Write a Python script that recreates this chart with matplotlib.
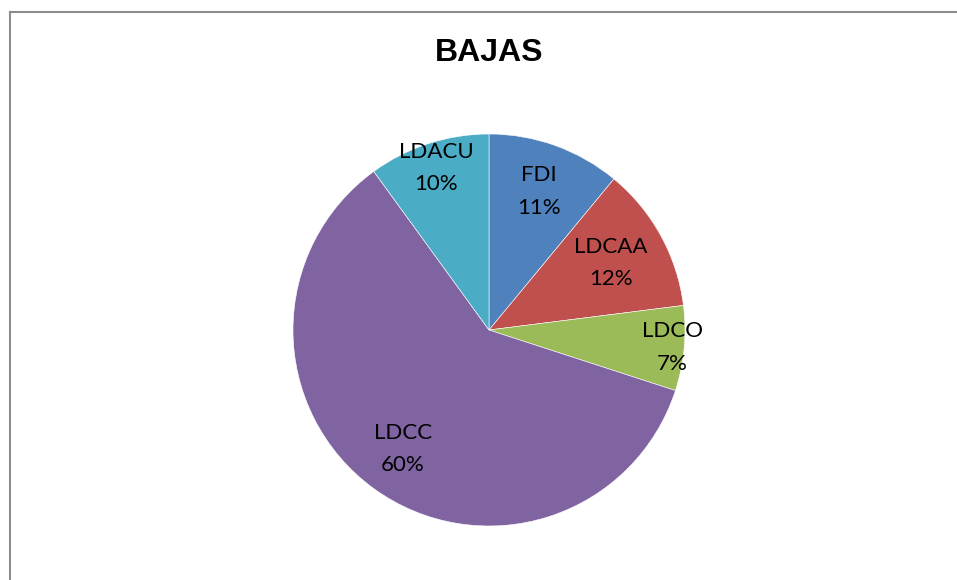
import numpy as np
import matplotlib
matplotlib.use('Agg')
import matplotlib.pyplot as plt
from matplotlib.lines import Line2D

title = 'BAJAS'
labels = ['FDI', 'LDCAA', 'LDCO', 'LDCC', 'LDACU']
values = [11, 12, 7, 60, 10]
colors = ['#4F81BD', '#C0504D', '#9BBB59', '#8064A2', '#4BACC6']
# radial position of each data label, as fraction of the radius
label_r = [0.75, 0.71, 0.94, 0.75, 0.87]

W, H = 957, 580
fig = plt.figure(figsize=(W / 100, H / 100), dpi=100)

cx, cy, rad = 489, 330, 196
ax = fig.add_axes([(cx - rad) / W, (H - cy - rad) / H, 2 * rad / W, 2 * rad / H])
wedges, _ = ax.pie(values, colors=colors, startangle=90, counterclock=False,
                   wedgeprops=dict(edgecolor='white', linewidth=0.4))
ax.set_xlim(-1, 1)
ax.set_ylim(-1, 1)
ax.set_aspect('equal')
ax.axis('off')

for w, lab, v, r in zip(wedges, labels, values, label_r):
    ang = np.deg2rad((w.theta1 + w.theta2) / 2)
    ax.text(r * np.cos(ang), r * np.sin(ang), '%s\n%d%%' % (lab, v),
            ha='center', va='center', fontsize=16, family='Lato',
            linespacing=1.78, color='black')

fig.text(cx / W, 1 - 53 / H, title, ha='center', va='center',
         fontsize=23, fontweight='bold', family='Liberation Sans')

# chart frame (only left and top edges visible)
fig.add_artist(Line2D([9.5 / W, 9.5 / W], [0, 1 - 11.5 / H], color='#8c8c8c', lw=1.5))
fig.add_artist(Line2D([9.5 / W, 1], [1 - 11.5 / H, 1 - 11.5 / H], color='#8c8c8c', lw=1.5))

fig.savefig('out.png', dpi=100)
